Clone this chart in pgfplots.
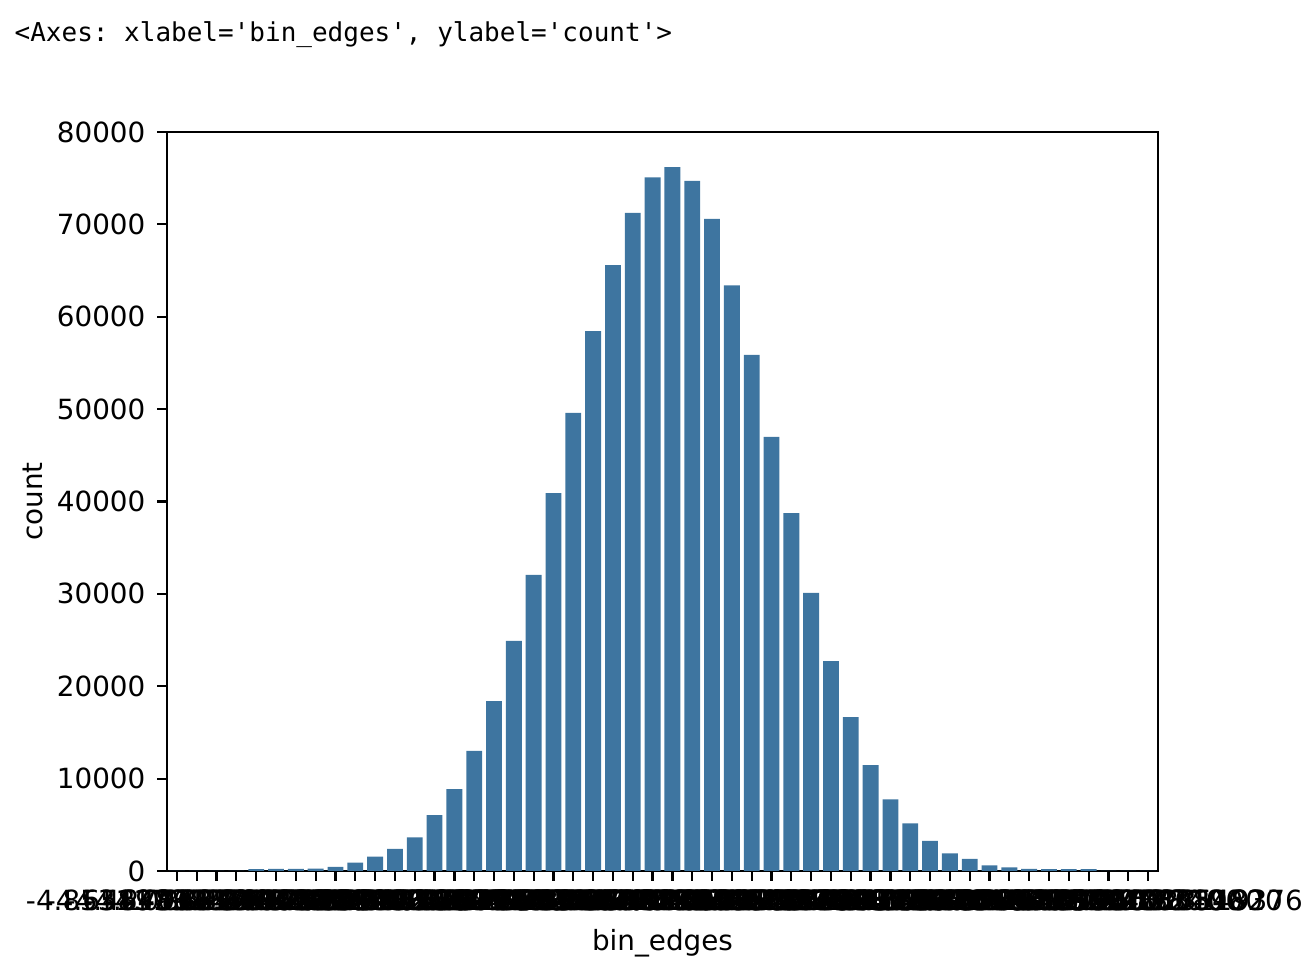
\documentclass[border=0pt]{standalone}
\usepackage{fontspec}
\setmainfont{DejaVu Sans}
\setmonofont{DejaVu Sans Mono}
\usepackage{pgfplots}
\pgfplotsset{compat=1.18}
\definecolor{barblue}{RGB}{62,117,160}

\pgfplotstableread{
x y
0 0
1 0
2 0
3 0
4 200
5 220
6 230
7 250
8 450
9 900
10 1550
11 2400
12 3650
13 6050
14 8850
15 13000
16 18400
17 24900
18 32050
19 40900
20 49600
21 58450
22 65600
23 71250
24 75100
25 76200
26 74700
27 70600
28 63400
29 55860
30 47000
31 38750
32 30100
33 22730
34 16670
35 11450
36 7750
37 5150
38 3250
39 1900
40 1300
41 600
42 400
43 220
44 200
45 200
46 200
47 0
48 0
49 0
}\counts

\begin{document}
\begin{tikzpicture}
\useasboundingbox (-50.1pt,-32.1pt) rectangle (342.9pt,261.3pt);
\node[anchor=base west, inner sep=0pt, font=\ttfamily\fontsize{7.8}{9}\selectfont] at (-45.9pt,248.7pt) {<Axes: xlabel='bin\_edges', ylabel='count'>};
\begin{axis}[
  at={(0,0)}, anchor=south west,
  scale only axis, width=297.3pt, height=221.7pt,
  xmin=-0.5, xmax=49.5, ymin=0, ymax=80000,
  enlargelimits=false,
  scaled y ticks=false,
  ybar, bar width=0.8,
  axis line style={line width=0.67pt, black},
  tick style={line width=0.67pt, black},
  major tick length=2.9pt,
  tick align=outside,
  tick pos=left,
  xtick={0,...,49},
  xticklabels={-4.853117902364652,-4.658993186270066,-4.464868470175480,-4.270743754080894,-4.076619037986308,-3.882494321891722,-3.688369605797136,-3.494244889702550,-3.300120173607964,-3.105995457513378,-2.911870741418792,-2.717746025324206,-2.523621309229620,-2.329496593135034,-2.135371877040448,-1.941247160945862,-1.747122444851276,-1.552997728756690,-1.358873012662104,-1.164748296567518,-0.970623580472932,-0.776498864378346,-0.582374148283760,-0.388249432189174,-0.194124716094588,2.220446049250313e-16,0.1941247160945900,0.3882494321891760,0.5823741482837620,0.7764988643783480,0.9706235804729340,1.1647482965675200,1.3588730126621060,1.5529977287566920,1.7471224448512780,1.9412471609458640,2.1353718770404500,2.3294965931350360,2.5236213092296220,2.7177460253242080,2.9118707414187940,3.1059954575133800,3.3001201736079660,3.4942448897025520,3.6883696057971380,3.8824943218917240,4.0766190379863100,4.2707437540808960,4.4648684701754820,4.6589931823119376},
  ytick={0,10000,20000,30000,40000,50000,60000,70000,80000},
  yticklabels={0,10000,20000,30000,40000,50000,60000,70000,80000},
  every tick label/.append style={font=\fontsize{8.34}{10}\selectfont, inner sep=0pt},
  xticklabel style={anchor=north, yshift=-2.5pt},
  yticklabel style={anchor=east, xshift=-3.4pt},
  xlabel={bin\_edges},
  ylabel={count},
  label style={font=\fontsize{8.34}{10}\selectfont, inner sep=0pt},
  xlabel style={at={(axis description cs:0.5,-0.1070)}, anchor=base},
  ylabel style={at={(axis description cs:-0.1352,0.5)}, anchor=center},
]
\addplot[fill=barblue, draw=none] table[x=x, y=y] {\counts};
\end{axis}
\end{tikzpicture}
\end{document}
